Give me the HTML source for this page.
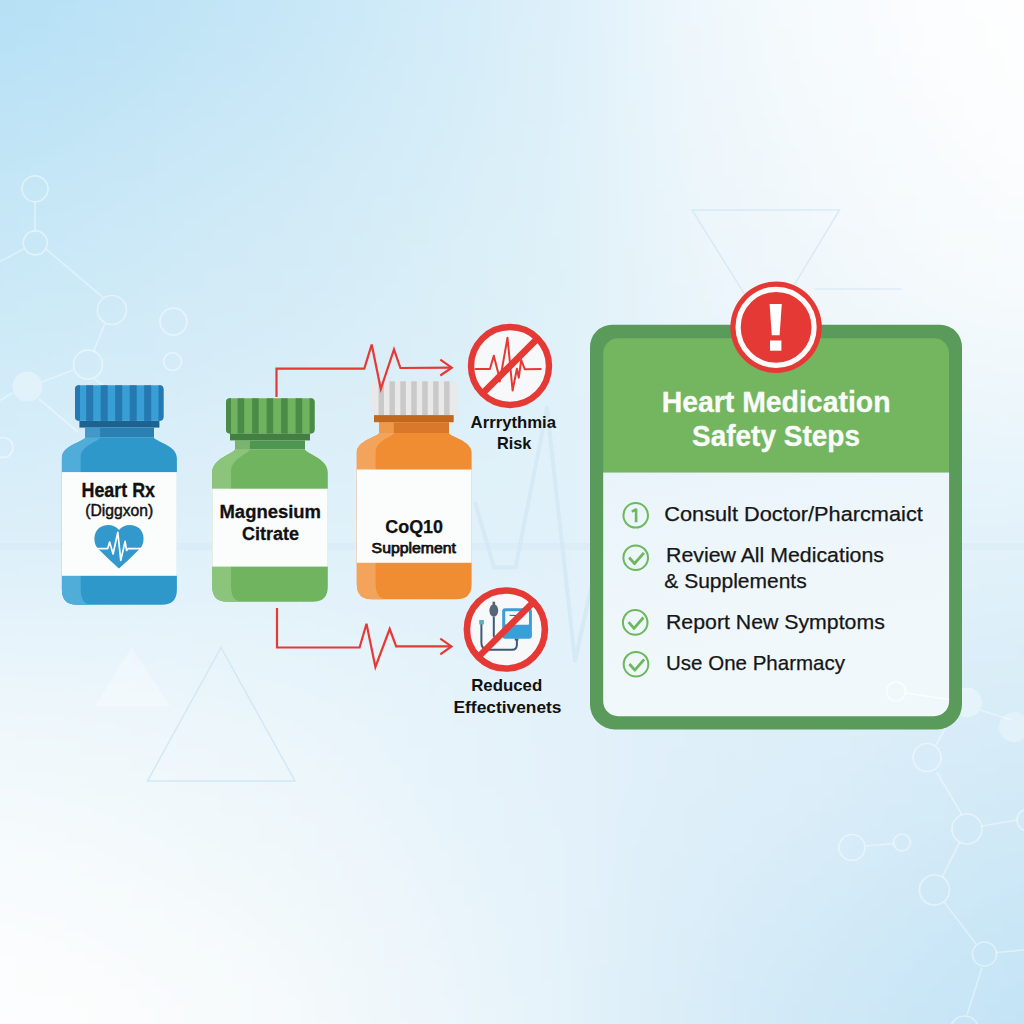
<!DOCTYPE html>
<html><head><meta charset="utf-8"><style>
html,body{margin:0;padding:0;width:1024px;height:1024px;overflow:hidden;background:#dcedf8}
svg{display:block}
text{font-family:"Liberation Sans",sans-serif}
</style></head><body>
<svg width="1024" height="1024" viewBox="0 0 1024 1024">

<defs>
 <linearGradient id="panel" x1="0" y1="0" x2="0.3" y2="1">
  <stop offset="0" stop-color="#e9f4fa"/>
  <stop offset="0.6" stop-color="#eff7fb"/>
  <stop offset="1" stop-color="#f1f8fb"/>
 </linearGradient>
 <filter id="bgblur" x="-1000" y="-1000" width="3024" height="3024" filterUnits="userSpaceOnUse">
  <feGaussianBlur stdDeviation="95"/>
 </filter>
</defs>
<g filter="url(#bgblur)">
<rect x="-900" y="-900" width="1028" height="1028" fill="#b4dff5"/>
<rect x="128" y="-900" width="256" height="1028" fill="#c3e5f7"/>
<rect x="384" y="-900" width="256" height="1028" fill="#d8eef9"/>
<rect x="640" y="-900" width="256" height="1028" fill="#f5fafd"/>
<rect x="896" y="-900" width="1028" height="1028" fill="#ffffff"/>
<rect x="-900" y="128" width="1028" height="256" fill="#c8e8f7"/>
<rect x="128" y="128" width="256" height="256" fill="#d2eaf7"/>
<rect x="384" y="128" width="256" height="256" fill="#dbf0f8"/>
<rect x="640" y="128" width="256" height="256" fill="#f0f7fb"/>
<rect x="896" y="128" width="1028" height="256" fill="#f9fcfd"/>
<rect x="-900" y="384" width="1028" height="256" fill="#d9eef9"/>
<rect x="128" y="384" width="256" height="256" fill="#def0f9"/>
<rect x="384" y="384" width="256" height="256" fill="#e0f1f9"/>
<rect x="640" y="384" width="256" height="256" fill="#e5f3fa"/>
<rect x="896" y="384" width="1028" height="256" fill="#e3f3fa"/>
<rect x="-900" y="640" width="1028" height="256" fill="#f3f9fc"/>
<rect x="128" y="640" width="256" height="256" fill="#eef7fb"/>
<rect x="384" y="640" width="256" height="256" fill="#e4f2fa"/>
<rect x="640" y="640" width="256" height="256" fill="#ddeef9"/>
<rect x="896" y="640" width="1028" height="256" fill="#d3eaf7"/>
<rect x="-900" y="896" width="1028" height="1028" fill="#fefefe"/>
<rect x="128" y="896" width="256" height="1028" fill="#f8fbfc"/>
<rect x="384" y="896" width="256" height="1028" fill="#e8f4fa"/>
<rect x="640" y="896" width="256" height="1028" fill="#d1e9f7"/>
<rect x="896" y="896" width="1028" height="1028" fill="#c1e3f6"/>
</g>
<rect x="0" y="543" width="1024" height="7" fill="#cfe6f3" fill-opacity="0.3"/>
<polyline points="475,502 494,567.5 515.6,567.5 547,408 575,661 600,548" fill="none" stroke="#cfe6f4" stroke-width="4" stroke-opacity="0.6" stroke-linejoin="round"/>

<circle cx="35" cy="188.8" r="13" fill="none" stroke="#fff" stroke-width="1.7" stroke-opacity="0.45"/>
<line x1="35" y1="202" x2="35" y2="230.5" stroke="#fff" stroke-width="1.7" stroke-opacity="0.4"/>
<circle cx="35.3" cy="242.8" r="12" fill="none" stroke="#fff" stroke-width="1.7" stroke-opacity="0.45"/>
<line x1="23.4" y1="249" x2="0" y2="261.6" stroke="#fff" stroke-width="1.7" stroke-opacity="0.4"/>
<line x1="46" y1="249" x2="103" y2="297.5" stroke="#fff" stroke-width="1.7" stroke-opacity="0.4"/>
<circle cx="111.9" cy="310" r="14.5" fill="none" stroke="#fff" stroke-width="1.7" stroke-opacity="0.45"/>
<circle cx="173.4" cy="321.6" r="13.5" fill="none" stroke="#fff" stroke-width="1.7" stroke-opacity="0.45"/>
<circle cx="172.5" cy="361.6" r="9" fill="none" stroke="#fff" stroke-width="1.7" stroke-opacity="0.45"/>
<line x1="104.7" y1="324" x2="93.75" y2="351" stroke="#fff" stroke-width="1.7" stroke-opacity="0.4"/>
<circle cx="88" cy="364.7" r="14.5" fill="none" stroke="#fff" stroke-width="1.7" stroke-opacity="0.45"/>
<line x1="73.4" y1="370" x2="42" y2="382" stroke="#fff" stroke-width="1.7" stroke-opacity="0.4"/>
<circle cx="27.5" cy="386.6" r="15" fill="#fff" fill-opacity="0.35"/>
<line x1="13" y1="392.8" x2="0" y2="400.6" stroke="#fff" stroke-width="1.7" stroke-opacity="0.4"/>
<line x1="39" y1="399" x2="78" y2="432" stroke="#fff" stroke-width="1.7" stroke-opacity="0.4"/>
<line x1="94" y1="378.75" x2="103" y2="385" stroke="#fff" stroke-width="1.7" stroke-opacity="0.4"/>
<circle cx="3" cy="447.5" r="10" fill="none" stroke="#fff" stroke-width="1.7" stroke-opacity="0.45"/>
<circle cx="896" cy="691.5" r="10" fill="none" stroke="#fff" stroke-width="1.7" stroke-opacity="0.35"/>
<line x1="906" y1="693" x2="952" y2="700" stroke="#fff" stroke-width="1.7" stroke-opacity="0.4"/>
<circle cx="967" cy="702.5" r="15" fill="#fff" fill-opacity="0.35"/>
<line x1="980" y1="710" x2="1012" y2="720" stroke="#fff" stroke-width="1.7" stroke-opacity="0.4"/>
<circle cx="1014" cy="727" r="15" fill="#fff" fill-opacity="0.3"/>
<line x1="947" y1="725" x2="936" y2="745" stroke="#fff" stroke-width="1.7" stroke-opacity="0.4"/>
<circle cx="927" cy="757.5" r="14" fill="none" stroke="#fff" stroke-width="1.7" stroke-opacity="0.45"/>
<line x1="937" y1="772.5" x2="962" y2="815" stroke="#fff" stroke-width="1.7" stroke-opacity="0.4"/>
<circle cx="967" cy="829" r="15" fill="none" stroke="#fff" stroke-width="1.7" stroke-opacity="0.45"/>
<line x1="982" y1="826" x2="1017" y2="820" stroke="#fff" stroke-width="1.7" stroke-opacity="0.4"/>
<circle cx="1028" cy="820" r="11" fill="none" stroke="#fff" stroke-width="1.7" stroke-opacity="0.45"/>
<line x1="959.5" y1="842.5" x2="942" y2="877.5" stroke="#fff" stroke-width="1.7" stroke-opacity="0.4"/>
<circle cx="934.5" cy="890" r="15" fill="none" stroke="#fff" stroke-width="1.7" stroke-opacity="0.45"/>
<line x1="944.5" y1="902.5" x2="976" y2="944" stroke="#fff" stroke-width="1.7" stroke-opacity="0.4"/>
<circle cx="984.5" cy="954" r="12" fill="none" stroke="#fff" stroke-width="1.7" stroke-opacity="0.45"/>
<line x1="996" y1="952.5" x2="1024" y2="950" stroke="#fff" stroke-width="1.7" stroke-opacity="0.4"/>
<line x1="982" y1="967.5" x2="967" y2="1015" stroke="#fff" stroke-width="1.7" stroke-opacity="0.4"/>
<circle cx="964.5" cy="1030" r="14" fill="none" stroke="#fff" stroke-width="1.7" stroke-opacity="0.45"/>
<circle cx="852" cy="847.5" r="13" fill="none" stroke="#fff" stroke-width="1.7" stroke-opacity="0.45"/>
<line x1="866" y1="846" x2="894.5" y2="843.5" stroke="#fff" stroke-width="1.7" stroke-opacity="0.4"/>
<circle cx="902" cy="842.5" r="8.5" fill="none" stroke="#fff" stroke-width="1.7" stroke-opacity="0.45"/>
<path d="M131.5 647.5 L170 706 L95 706 Z" fill="#fff" fill-opacity="0.3"/>
<path d="M221 647.5 L295 781 L147.5 781 Z" fill="none" stroke="#d2e8f5" stroke-width="1.5"/>
<path d="M692 210 L839.5 210 L767 330 Z" fill="none" stroke="#d8eaf6" stroke-width="1.5"/>
<line x1="814.5" y1="289" x2="902" y2="289" stroke="#dcedf8" stroke-width="1.5"/>
<rect x="75" y="385.3" width="88.5" height="35.5" rx="4" fill="#379fd6"/>
<rect x="86.2" y="385.3" width="7.0" height="35.5" fill="#2678b0"/>
<rect x="100.7" y="385.3" width="7.0" height="35.5" fill="#2678b0"/>
<rect x="115.2" y="385.3" width="7.0" height="35.5" fill="#2678b0"/>
<rect x="129.7" y="385.3" width="7.0" height="35.5" fill="#2678b0"/>
<rect x="144.2" y="385.3" width="7.0" height="35.5" fill="#2678b0"/>
<path d="M79 385.3 H80 V420.8 H79 A4 4 0 0 1 75 416.8 V389.3 A4 4 0 0 1 79 385.3Z" fill="#2678b0"/>
<path d="M159.5 385.3 H158.5 V420.8 H159.5 A4 4 0 0 0 163.5 416.8 V389.3 A4 4 0 0 0 159.5 385.3Z" fill="#2678b0"/>
<rect x="79.4" y="420.8" width="80.0" height="6.800000000000011" fill="#1d6391"/>
<rect x="85.3" y="427.6" width="68.7" height="10.0" fill="#2a7fb3"/>
<rect x="85.3" y="427.6" width="14.8" height="10.0" fill="#4497c8"/>
<path d="M85.3 437.6 C85.3 441.07 61.9 445.35 61.9 458 V589.8 Q61.9 604.8 76.9 604.8 H161.9 Q176.9 604.8 176.9 589.8 V458 C176.9 445.35 154 441.07 154 437.6 Z" fill="#2e98cb"/>
<path d="M85.3 437.6 C85.3 441.07 61.9 445.35 61.9 458 V589.8 Q61.9 604.8 76.9 604.8 H88.7 Q80.7 601.8 80.7 589.8 V457 C80.7 445.35 100.1 441.07 100.1 437.6 Z" fill="#50acd9"/>
<rect x="61.9" y="472.1" width="115.0" height="103.69999999999993" fill="#fbfcfc"/>
<text x="81.5" y="496.5" font-size="20" font-weight="bold" fill="#111" text-anchor="start" textLength="73.5" lengthAdjust="spacingAndGlyphs" stroke="#111" stroke-width="0.35">Heart Rx</text>
<text x="85.2" y="516" font-size="15.7" font-weight="normal" fill="#111" text-anchor="start" textLength="68" lengthAdjust="spacingAndGlyphs" stroke="#111" stroke-width="0.45">(Diggxon)</text>
<path d="M119 568.6 C113 563 101 552 97.5 548 C93 543 93.5 533 98.5 528.5 C104 523.5 114 523.5 119 530 C124 523.5 134 523.5 139.5 528.5 C144.5 533 145 543 140.5 548 C137 552 125 563 119 568.6 Z" fill="#3399cc"/>
<polyline points="97,548.7 107.6,548.7 109.6,542 113.1,554 117.8,532.3 120.8,560.4 125.1,541.4 126.6,550.5 128,548.7 141,548.7" fill="none" stroke="#fff" stroke-width="1.7" stroke-linejoin="round"/>
<rect x="226" y="398.3" width="88.60000000000002" height="35.19999999999999" rx="4" fill="#6fb35f"/>
<rect x="237.6" y="398.3" width="6.599999999999994" height="35.19999999999999" fill="#4a8c47"/>
<rect x="252.1" y="398.3" width="6.599999999999994" height="35.19999999999999" fill="#4a8c47"/>
<rect x="266.6" y="398.3" width="6.599999999999966" height="35.19999999999999" fill="#4a8c47"/>
<rect x="281.1" y="398.3" width="6.599999999999966" height="35.19999999999999" fill="#4a8c47"/>
<rect x="295.6" y="398.3" width="6.599999999999966" height="35.19999999999999" fill="#4a8c47"/>
<path d="M230 398.3 H231 V433.5 H230 A4 4 0 0 1 226 429.5 V402.3 A4 4 0 0 1 230 398.3Z" fill="#4a8c47"/>
<path d="M310.6 398.3 H309.6 V433.5 H310.6 A4 4 0 0 0 314.6 429.5 V402.3 A4 4 0 0 0 310.6 398.3Z" fill="#4a8c47"/>
<rect x="230" y="433.5" width="80" height="6.899999999999977" fill="#428041"/>
<rect x="235.1" y="440.4" width="69.9" height="8.900000000000034" fill="#4f9650"/>
<rect x="235.1" y="440.4" width="14.8" height="8.900000000000034" fill="#7ab46f"/>
<path d="M235.1 449.3 C235.1 453.24 212.2 458.12 212.2 472.5 V586.8 Q212.2 601.8 227.2 601.8 H312.8 Q327.8 601.8 327.8 586.8 V472.5 C327.8 458.12 305 453.24 305 449.3 Z" fill="#70b45f"/>
<path d="M235.1 449.3 C235.1 453.24 212.2 458.12 212.2 472.5 V586.8 Q212.2 601.8 227.2 601.8 H239.0 Q231.0 598.8 231.0 586.8 V471.5 C231.0 458.12 249.9 453.24 249.9 449.3 Z" fill="#8dc47c"/>
<rect x="212.2" y="488.7" width="115.60000000000002" height="77.90000000000003" fill="#fbfcfc"/>
<text x="219.5" y="517.6" font-size="19.2" font-weight="bold" fill="#111" text-anchor="start" textLength="101.5" lengthAdjust="spacingAndGlyphs" stroke="#111" stroke-width="0.3">Magnesium</text>
<text x="242" y="539.6" font-size="19.2" font-weight="bold" fill="#111" text-anchor="start" textLength="57" lengthAdjust="spacingAndGlyphs" stroke="#111" stroke-width="0.3">Citrate</text>
<rect x="370.6" y="381.3" width="87.19999999999999" height="33.80000000000001" rx="4" fill="#e9e9e9"/>
<rect x="378.5" y="381.3" width="5.5" height="33.80000000000001" fill="#c9c9c9"/>
<rect x="389.43" y="381.3" width="5.5" height="33.80000000000001" fill="#c9c9c9"/>
<rect x="400.36" y="381.3" width="5.5" height="33.80000000000001" fill="#c9c9c9"/>
<rect x="411.29" y="381.3" width="5.5" height="33.80000000000001" fill="#c9c9c9"/>
<rect x="422.22" y="381.3" width="5.5" height="33.80000000000001" fill="#c9c9c9"/>
<rect x="433.15" y="381.3" width="5.5" height="33.80000000000001" fill="#c9c9c9"/>
<rect x="444.08" y="381.3" width="5.5" height="33.80000000000001" fill="#c9c9c9"/>
<rect x="374" y="415.1" width="79.69999999999999" height="7.099999999999966" fill="#c2681c"/>
<rect x="379" y="422.2" width="70" height="10.800000000000011" fill="#d9772a"/>
<rect x="379" y="422.2" width="14.8" height="10.800000000000011" fill="#ee9a4a"/>
<path d="M379 433 C379 436.31 356.8 440.41 356.8 452.5 V584.2 Q356.8 599.2 371.8 599.2 H456.6 Q471.6 599.2 471.6 584.2 V452.5 C471.6 440.41 449 436.31 449 433 Z" fill="#f08c32"/>
<path d="M379 433 C379 436.31 356.8 440.41 356.8 452.5 V584.2 Q356.8 599.2 371.8 599.2 H383.6 Q375.6 596.2 375.6 584.2 V451.5 C375.6 440.41 393.8 436.31 393.8 433 Z" fill="#f4a45a"/>
<rect x="356.8" y="469.5" width="114.80000000000001" height="93.29999999999995" fill="#fbfcfc"/>
<text x="385.3" y="532.8" font-size="18.2" font-weight="bold" fill="#111" text-anchor="start" textLength="57.7" lengthAdjust="spacingAndGlyphs" stroke="#111" stroke-width="0.25">CoQ10</text>
<text x="371.6" y="553.4" font-size="15.1" font-weight="normal" fill="#111" text-anchor="start" textLength="84.4" lengthAdjust="spacingAndGlyphs" stroke="#111" stroke-width="0.75">Supplement</text>
<polyline points="276.5,397 276.5,368.6 364.3,368.6 371.7,344.5 380.8,389 394,349.5 400.4,368 451,367.7" fill="none" stroke="#e53935" stroke-width="2.2" stroke-linejoin="miter"/>
<polyline points="440.3,359.7 451.8,367.7 440.3,375.5" fill="none" stroke="#e53935" stroke-width="2.2"/>
<polyline points="277,608 277,647.5 359.6,647.5 366.5,623.8 375.4,667 389.7,629 396.2,646.4 451,646.4" fill="none" stroke="#e53935" stroke-width="2.2" stroke-linejoin="miter"/>
<polyline points="440.3,638.6 451.5,646.4 440.3,654.4" fill="none" stroke="#e53935" stroke-width="2.2"/>
<circle cx="510" cy="366" r="39" fill="#f6f8f9" stroke="#e53935" stroke-width="6.4"/>
<polyline points="474.7,368.9 489.9,369 493.8,355.8 498.1,372.6 499.7,381.6 507.5,337.8 512.6,390.5 516.9,368.7 518.8,377.7 521.2,360 524.7,369.2 541.5,369" fill="none" stroke="#e53935" stroke-width="2" stroke-linejoin="round"/>
<line x1="537.6" y1="338.4" x2="482.4" y2="393.6" stroke="#e53935" stroke-width="6.6"/>
<text x="513.3" y="428.3" font-size="16.9" font-weight="bold" fill="#111" text-anchor="middle" textLength="85.4" lengthAdjust="spacingAndGlyphs">Arrrythmia</text>
<text x="514.2" y="448.8" font-size="16.9" font-weight="bold" fill="#111" text-anchor="middle" textLength="34.5" lengthAdjust="spacingAndGlyphs">Risk</text>
<circle cx="505.9" cy="629.5" r="39" fill="#f6f8f9" stroke="#e53935" stroke-width="6.6"/>
<rect x="502.2" y="608.3" width="29.7" height="30.4" rx="3" fill="#3a9fd8"/>
<rect x="505.2" y="611.2" width="23.8" height="13.6" rx="1" fill="#f3f8fb"/>
<line x1="509.6" y1="615.3" x2="518.4" y2="615.6" stroke="#3d5a78" stroke-width="1"/>
<ellipse cx="493.8" cy="610.5" rx="4.4" ry="6.2" fill="#556677"/>
<rect x="492.5" y="601.7" width="2.6" height="3.5" fill="#556677"/>
<path d="M493.8 616.7 V636.9" stroke="#3d5a78" stroke-width="2" fill="none"/>
<path d="M481.4 622.2 V642.7 Q481.4 649.7 488.3 649.7 H512 Q516.9 649.7 516.9 644.4 V639.8" stroke="#3d5a78" stroke-width="2" fill="none"/>
<rect x="479.2" y="620" width="4.7" height="4.4" fill="#5ab0c8"/>
<rect x="514.7" y="638.7" width="3.7" height="1.8" fill="#3d5a78"/>
<line x1="533.5" y1="602" x2="478.3" y2="657" stroke="#e53935" stroke-width="6.6"/>
<text x="506.7" y="690.7" font-size="17" font-weight="bold" fill="#111" text-anchor="middle" textLength="71" lengthAdjust="spacingAndGlyphs">Reduced</text>
<text x="507.5" y="712.6" font-size="17" font-weight="bold" fill="#111" text-anchor="middle" textLength="108" lengthAdjust="spacingAndGlyphs">Effectivenets</text>
<path d="M612 324.8 H940 A22 22 0 0 1 962 346.8 V704.4 A25 25 0 0 1 937 729.4 H615 A25 25 0 0 1 590 704.4 V346.8 A22 22 0 0 1 612 324.8 Z" fill="#5a9a5b"/>
<path d="M618.2 338.3 H934.1 A15 15 0 0 1 949.1 353.3 V472.5 H603.2 V353.3 A15 15 0 0 1 618.2 338.3 Z" fill="#74b65f"/>
<path d="M603.2 472.5 H949.1 V701.2 A15 15 0 0 1 934.1 716.2 H618.2 A15 15 0 0 1 603.2 701.2 Z" fill="url(#panel)"/>
<circle cx="896" cy="691.5" r="9.5" fill="none" stroke="#fff" stroke-width="1.6" stroke-opacity="0.75"/>
<line x1="905.5" y1="693" x2="949" y2="699.5" stroke="#fff" stroke-width="1.6" stroke-opacity="0.75"/>
<text x="776.1" y="411.5" font-size="29" font-weight="bold" fill="#fbfdfb" text-anchor="middle" textLength="228.8" lengthAdjust="spacingAndGlyphs" stroke="#fbfdfb" stroke-width="0.3">Heart Medication</text>
<text x="776" y="445.7" font-size="29" font-weight="bold" fill="#fbfdfb" text-anchor="middle" textLength="168" lengthAdjust="spacingAndGlyphs" stroke="#fbfdfb" stroke-width="0.3">Safety Steps</text>
<circle cx="776.1" cy="327.3" r="45.7" fill="#e53935"/>
<circle cx="776.1" cy="327.3" r="38" fill="none" stroke="#fbfbfb" stroke-width="5.2"/>
<path d="M769.6 304 H781.8 L779.6 335.2 H771.8 Z" fill="#fff"/>
<rect x="770" y="340.5" width="11.4" height="10.2" fill="#fff"/>
<circle cx="635.7" cy="515.3" r="12.3" fill="none" stroke="#6cb85c" stroke-width="2"/>
<path d="M631.8 511.6 L636.1 509.5 V522.3" fill="none" stroke="#6cb85c" stroke-width="2.6" stroke-linejoin="round"/>
<circle cx="635.7" cy="557.7" r="12.3" fill="none" stroke="#6cb85c" stroke-width="2"/><polyline points="629.1,557.5 634.5,563.7 643.9000000000001,552.8000000000001" fill="none" stroke="#6cb85c" stroke-width="2.8" stroke-linejoin="round"/>
<circle cx="635.2" cy="622.4" r="12.3" fill="none" stroke="#6cb85c" stroke-width="2"/><polyline points="628.6,622.1999999999999 634.0,628.4 643.4000000000001,617.5" fill="none" stroke="#6cb85c" stroke-width="2.8" stroke-linejoin="round"/>
<circle cx="636" cy="664.2" r="12.3" fill="none" stroke="#6cb85c" stroke-width="2"/><polyline points="629.4,664.0 634.8,670.2 644.2,659.3000000000001" fill="none" stroke="#6cb85c" stroke-width="2.8" stroke-linejoin="round"/>
<text x="664.3" y="520.7" font-size="20.5" font-weight="normal" fill="#161616" text-anchor="start" textLength="258.5" lengthAdjust="spacingAndGlyphs" stroke="#161616" stroke-width="0.25">Consult Doctor/Pharcmaict</text>
<text x="666" y="561.9" font-size="20.5" font-weight="normal" fill="#161616" text-anchor="start" textLength="218" lengthAdjust="spacingAndGlyphs" stroke="#161616" stroke-width="0.25">Review All Medications</text>
<text x="664.3" y="587.7" font-size="20.5" font-weight="normal" fill="#161616" text-anchor="start" textLength="142.4" lengthAdjust="spacingAndGlyphs" stroke="#161616" stroke-width="0.25">&amp; Supplements</text>
<text x="666" y="629.3" font-size="20.8" font-weight="normal" fill="#161616" text-anchor="start" textLength="218.8" lengthAdjust="spacingAndGlyphs" stroke="#161616" stroke-width="0.25">Report New Symptoms</text>
<text x="666" y="670.4" font-size="20.8" font-weight="normal" fill="#161616" text-anchor="start" textLength="179" lengthAdjust="spacingAndGlyphs" stroke="#161616" stroke-width="0.25">Use One Pharmacy</text>
</svg>
</body></html>
